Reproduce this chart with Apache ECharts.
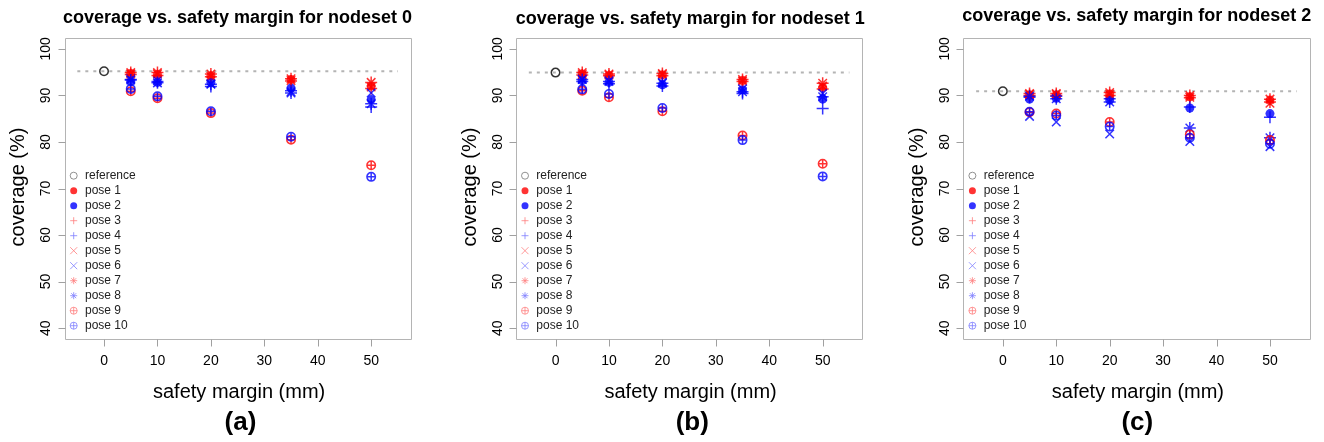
<!DOCTYPE html>
<html>
<head>
<meta charset="utf-8">
<script src="https://cdn.jsdelivr.net/npm/echarts@6/dist/echarts.min.js"></script>
<style>
  html, body { margin: 0; padding: 0; background: #fff; }
  #chart { width: 1324px; height: 442px; }
</style>
</head>
<body>
<div id="chart"></div>
<script>
// safety margins (mm) on x, coverage (%) on y; one inner array per nodeset (a, b, c)
const margins = [5, 10, 20, 35, 50];
const xTicks = [0, 10, 20, 30, 40, 50];
const yTicks = [40, 50, 60, 70, 80, 90, 100];
const panelTitles = ['coverage vs. safety margin for nodeset 0', 'coverage vs. safety margin for nodeset 1', 'coverage vs. safety margin for nodeset 2'];
const panelTags = ['(a)', '(b)', '(c)'];
const poseNames = ['pose 1', 'pose 2', 'pose 3', 'pose 4', 'pose 5', 'pose 6', 'pose 7', 'pose 8', 'pose 9', 'pose 10'];

const reference = [95.2, 94.9, 90.9];
const pose1 = [[94.7, 94.5, 94.2, 93.4, 92.0], [94.6, 94.3, 94.4, 93.2, 91.7], [90.1, 90.1, 90.3, 89.7, 89.0]];
const pose2 = [[93.0, 92.8, 92.8, 91.6, 89.1], [93.2, 92.8, 92.3, 91.2, 89.2], [89.2, 89.4, 89.0, 87.3, 86.1]];
const pose3 = [[94.5, 94.3, 94.0, 93.1, 91.5], [94.4, 94.2, 94.2, 93.0, 91.4], [90.0, 90.0, 90.0, 89.5, 88.6]];
const pose4 = [[93.4, 93.0, 91.9, 91.0, 87.5], [93.0, 92.5, 92.0, 90.4, 87.2], [89.6, 89.8, 89.3, 87.5, 85.3]];
const pose5 = [[94.6, 94.6, 94.1, 93.2, 91.8], [94.5, 94.4, 94.5, 93.1, 92.0], [90.2, 90.2, 90.2, 89.6, 88.3]];
const pose6 = [[93.6, 93.2, 92.5, 90.8, 90.5], [93.5, 93.2, 92.8, 91.4, 90.4], [85.5, 84.3, 81.7, 80.1, 79.0]];
const pose7 = [[94.9, 94.9, 94.6, 93.6, 92.8], [94.9, 94.6, 94.7, 93.4, 92.6], [90.4, 90.4, 90.6, 90.0, 89.2]];
const pose8 = [[93.3, 92.7, 92.4, 90.5, 88.2], [93.4, 93.0, 92.6, 90.8, 89.7], [89.8, 89.3, 88.6, 83.0, 80.9]];
const pose9 = [[90.9, 89.4, 86.2, 80.5, 75.0], [91.0, 89.6, 86.6, 81.4, 75.3], [86.4, 86.1, 84.3, 81.6, 80.4]];
const pose10 = [[91.4, 89.8, 86.6, 81.1, 72.5], [91.3, 90.3, 87.3, 80.4, 72.6], [86.5, 85.7, 83.3, 80.9, 79.6]];
const poses = [pose1, pose2, pose3, pose4, pose5, pose6, pose7, pose8, pose9, pose10];

// plot box limits (R style: data range padded 4%)
const X_MIN = -7.4, X_MAX = 57.4, Y_MIN = 37.6, Y_MAX = 102.4;
const FONT = '"Liberation Sans", Arial, Helvetica, sans-serif';
const RED = '#ff0000', BLUE = '#0000ff', GRAY = '#b4b4b4';
const RING = 'path://M0,5A5,5,0,1,1,10,5A5,5,0,1,1,0,5Z';
const PLUS = 'path://M0,5L10,5M5,0L5,10';
const CROSS = 'path://M0,0L10,10M0,10L10,0';
const STAR = 'path://M0,5L10,5M5,0L5,10M1.46,1.46L8.54,8.54M1.46,8.54L8.54,1.46';
const OPLUS = 'path://M0,5A5,5,0,1,1,10,5A5,5,0,1,1,0,5ZM5,0L5,10M0,5L10,5';

// marker per pose: pch 19, 3, 4, 8, 10 in red/blue pairs
const poseMarks = [
  { sym: 'circle', size: 9, color: RED, fill: true },
  { sym: 'circle', size: 9, color: BLUE, fill: true },
  { sym: PLUS, size: 12, color: RED },
  { sym: PLUS, size: 12, color: BLUE },
  { sym: CROSS, size: 8.5, color: RED },
  { sym: CROSS, size: 8.5, color: BLUE },
  { sym: STAR, size: 12, color: RED },
  { sym: STAR, size: 12, color: BLUE },
  { sym: OPLUS, size: 8.5, color: RED },
  { sym: OPLUS, size: 8.5, color: BLUE }
];

const panels = [
  { left: 64.5, titleX: 237.5, titleY: 18.3, tagX: 240.5, legendX: 69.7 },
  { left: 516, titleX: 690.3, titleY: 19.3, tagX: 692.3, legendX: 521 },
  { left: 963.3, titleX: 1136.7, titleY: 16, tagX: 1137.3, legendX: 968.4 }
];
// box size in px; the grid is widened by the tick length on the left and bottom
const PW = 346.2, PH = 301.6, PT = 37.7, TICK = 7;
const GX_MIN = X_MIN - TICK * (X_MAX - X_MIN) / PW;
const GY_MIN = Y_MIN - TICK * (Y_MAX - Y_MIN) / PH;

const markStyle = m => m.fill
  ? { color: m.color }
  : { color: 'rgba(0,0,0,0)', borderColor: m.color, borderWidth: 1.5 };

const crisp = v => Math.round(v) + 0.5;

// box + outward tick marks, placed through the axis scales
const frameSeries = i => ({
  type: 'custom', xAxisIndex: i, yAxisIndex: i, silent: true, z: 1,
  data: [[X_MIN, Y_MIN]],
  renderItem: (params, api) => {
    const lo = api.coord([X_MIN, Y_MIN]), hi = api.coord([X_MAX, Y_MAX]);
    const x0 = crisp(lo[0]), y0 = crisp(lo[1]), x1 = crisp(hi[0]), y1 = crisp(hi[1]);
    const style = { stroke: GRAY, lineWidth: 1, fill: null };
    const tickStyle = { stroke: '#a0a0a0', lineWidth: 1, fill: null };
    const children = [{ type: 'rect', shape: { x: x0, y: y1, width: x1 - x0, height: y0 - y1 }, style }];
    xTicks.forEach(v => {
      const x = crisp(api.coord([v, Y_MIN])[0]);
      children.push({ type: 'line', shape: { x1: x, y1: y0, x2: x, y2: y0 + TICK }, style: tickStyle });
    });
    yTicks.forEach(v => {
      const y = crisp(api.coord([X_MIN, v])[1]);
      children.push({ type: 'line', shape: { x1: x0 - TICK, y1: y, x2: x0, y2: y }, style: tickStyle });
    });
    return { type: 'group', children };
  }
});

const grid = [], xAxis = [], yAxis = [], series = [], legend = [], graphic = [];

panels.forEach((p, i) => {
  grid.push({ left: p.left - TICK, top: PT, width: PW + TICK, height: PH + TICK, show: false });
  xAxis.push({
    type: 'value', gridIndex: i, min: GX_MIN, max: X_MAX, position: 'bottom',
    splitLine: { show: false }, axisLine: { show: false, onZero: false }, axisTick: { show: false },
    axisLabel: { customValues: xTicks, fontSize: 14, color: '#000', margin: 8, fontFamily: FONT },
    name: 'safety margin (mm)', nameLocation: 'middle', nameGap: 36,
    nameTextStyle: { fontSize: 20, color: '#000', fontFamily: FONT, padding: [0, 0, 0, 10] }
  });
  yAxis.push({
    type: 'value', gridIndex: i, min: GY_MIN, max: Y_MAX, position: 'left',
    splitLine: { show: false }, axisLine: { show: false, onZero: false }, axisTick: { show: false },
    axisLabel: { customValues: yTicks, fontSize: 14, color: '#000', margin: 4, rotate: 90, fontFamily: FONT },
    name: 'coverage (%)', nameLocation: 'middle', nameGap: 29,
    nameTextStyle: { fontSize: 20, color: '#000', fontFamily: FONT, padding: [0, 0, 0, 10] }
  });

  series.push(frameSeries(i));
  series.push({
    type: 'line', name: 'ref line ' + i, xAxisIndex: i, yAxisIndex: i, silent: true, z: 1,
    data: [[-5, reference[i]], [55, reference[i]]], symbol: 'none',
    lineStyle: { color: GRAY, width: 2, type: [3, 5] }
  });
  series.push({
    type: 'scatter', name: 'reference', xAxisIndex: i, yAxisIndex: i, silent: true, z: 2,
    data: [[0, reference[i]]], symbol: RING, symbolSize: 8.5,
    itemStyle: { color: 'rgba(0,0,0,0)', borderColor: '#000', borderWidth: 1.5 }
  });
  poses.forEach((pose, k) => {
    const m = poseMarks[k];
    series.push({
      type: 'scatter', name: poseNames[k], xAxisIndex: i, yAxisIndex: i, silent: true, z: 3 + k,
      data: margins.map((x, j) => [x, pose[i][j]]),
      symbol: m.sym, symbolSize: m.size, itemStyle: markStyle(m)
    });
  });

  legend.push({
    orient: 'vertical', left: p.legendX, top: 169.7, padding: 0,
    itemWidth: 12.6, itemHeight: 7, itemGap: 3, selectedMode: false,
    textStyle: { fontSize: 12, lineHeight: 12, color: '#222', fontFamily: FONT },
    data: [
      { name: 'reference', icon: RING, itemStyle: { color: 'rgba(0,0,0,0)', borderColor: '#777', borderWidth: 1 } },
      ...poseNames.map((n, k) => {
        const m = poseMarks[k];
        const light = m.color === RED ? '#ff8080' : '#8080ff';
        return m.fill
          ? { name: n, icon: 'circle', itemStyle: { color: m.color } }
          : { name: n, icon: m.sym, itemStyle: { color: 'rgba(0,0,0,0)', borderColor: light, borderWidth: 1 } };
      })
    ]
  });

  graphic.push({ type: 'text', x: p.titleX, y: p.titleY, style: { text: panelTitles[i], font: 'bold 18px ' + FONT, fill: '#000', align: 'center', verticalAlign: 'middle' } });
  graphic.push({ type: 'text', x: p.tagX, y: 423, style: { text: panelTags[i], font: 'bold 26px ' + FONT, fill: '#000', align: 'center', verticalAlign: 'middle' } });
});

const chart = echarts.init(document.getElementById('chart'));
chart.setOption({
  animation: false,
  backgroundColor: '#fff',
  grid, xAxis, yAxis, series, legend, graphic
});
</script>
</body>
</html>
